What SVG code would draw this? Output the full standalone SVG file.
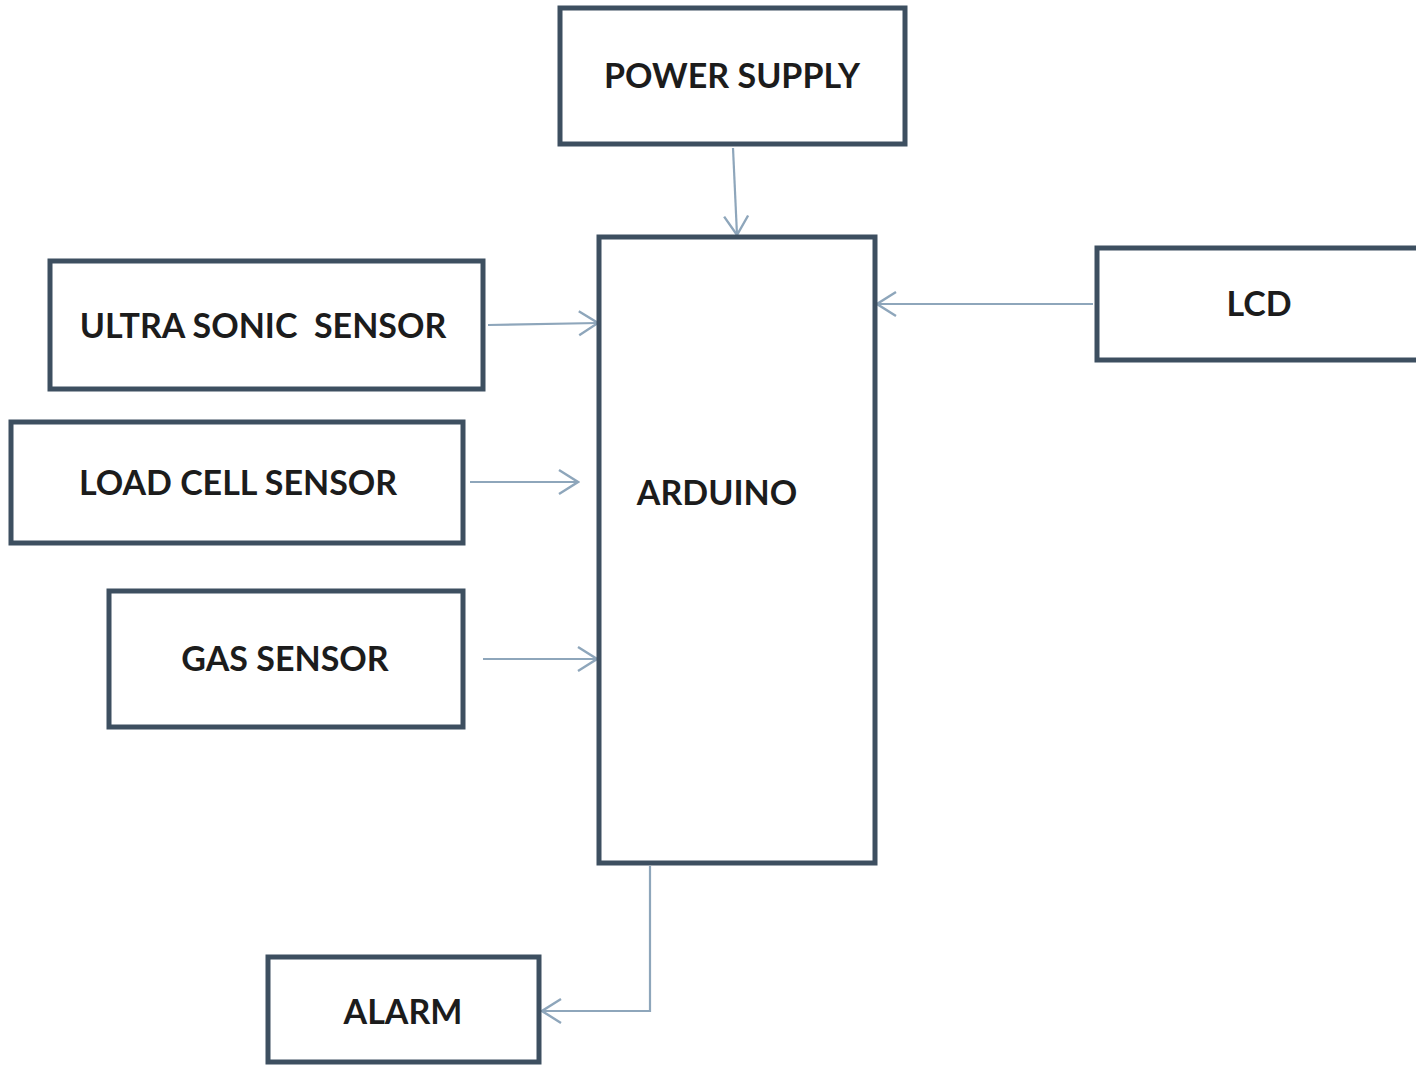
<svg xmlns="http://www.w3.org/2000/svg" width="1416" height="1066" viewBox="0 0 1416 1066">
<style>
.box{fill:#ffffff;stroke:#3d4f60;stroke-width:5}
.lbl{font-family:Lato,"Liberation Sans",sans-serif;font-weight:700;font-size:34px;fill:#1c1c1c;text-anchor:middle;dominant-baseline:central}
.con{fill:none;stroke:#8ea6bb;stroke-width:2.2}
</style>
<defs>
<marker id="arr" viewBox="0 0 24 28" refX="22" refY="14" markerWidth="24" markerHeight="28" markerUnits="userSpaceOnUse" orient="auto">
<path d="M3,2 L22,14 L3,26" fill="none" stroke="#8ea6bb" stroke-width="2.4"/>
</marker>
</defs>
<rect width="1416" height="1066" fill="#ffffff"/>
<g id="connectors">
<line class="con" x1="733" y1="148" x2="737" y2="235" marker-end="url(#arr)"/>
<line class="con" x1="488" y1="325" x2="598" y2="323" marker-end="url(#arr)"/>
<line class="con" x1="470" y1="482" x2="578" y2="482" marker-end="url(#arr)"/>
<line class="con" x1="483" y1="659" x2="597" y2="659" marker-end="url(#arr)"/>
<line class="con" x1="1093" y1="304" x2="877" y2="304" marker-end="url(#arr)"/>
<polyline class="con" points="650,866 650,1011 542,1011" marker-end="url(#arr)"/>
</g>
<g id="power-supply">
<rect class="box" x="560" y="8" width="345" height="136"/>
<text class="lbl" x="732" y="74">POWER SUPPLY</text>
</g>
<g id="arduino">
<rect class="box" x="599" y="237" width="276" height="626"/>
<text class="lbl" x="717" y="491">ARDUINO</text>
</g>
<g id="ultrasonic">
<rect class="box" x="50" y="261" width="433" height="128"/>
<text class="lbl" x="263" y="324" xml:space="preserve">ULTRA SONIC  SENSOR</text>
</g>
<g id="loadcell">
<rect class="box" x="11" y="422" width="452" height="121"/>
<text class="lbl" x="238" y="481">LOAD CELL SENSOR</text>
</g>
<g id="gas">
<rect class="box" x="109" y="591" width="354" height="136"/>
<text class="lbl" x="285" y="657">GAS SENSOR</text>
</g>
<g id="lcd">
<rect class="box" x="1097" y="248" width="330" height="112"/>
<text class="lbl" x="1259" y="302">LCD</text>
</g>
<g id="alarm">
<rect class="box" x="268" y="957" width="271" height="105"/>
<text class="lbl" x="403" y="1010">ALARM</text>
</g>
</svg>
